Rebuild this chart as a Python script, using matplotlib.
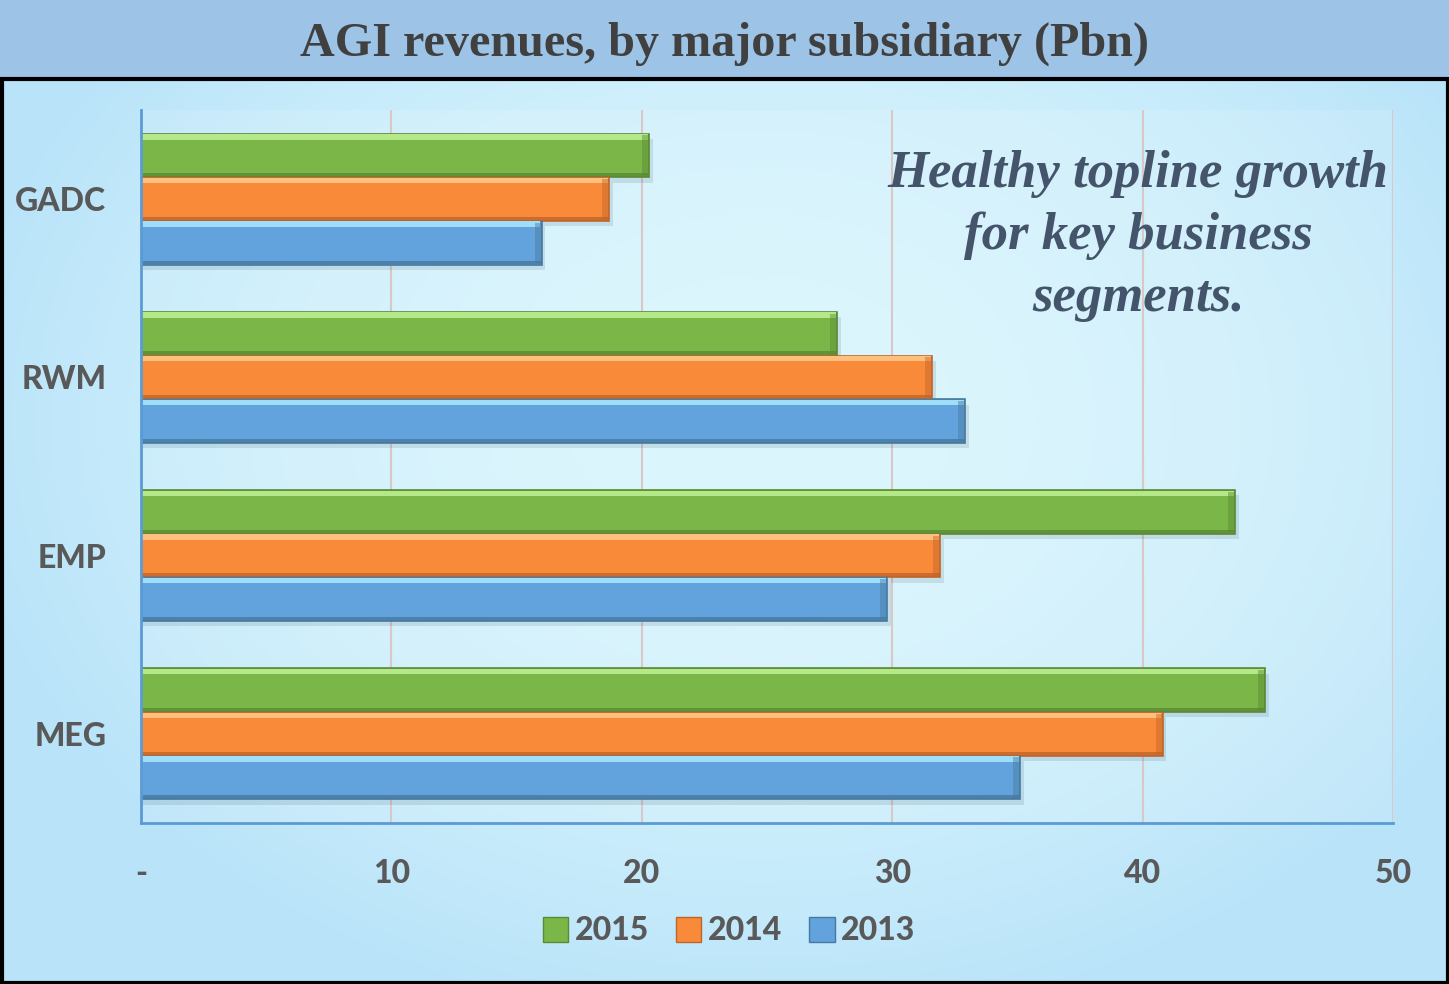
#!/usr/bin/env python3
"""AGI revenues by major subsidiary, horizontal grouped bars."""

import numpy as np
import matplotlib

matplotlib.use("Agg")
import matplotlib.pyplot as plt
from matplotlib.patches import Patch, Rectangle

# ── data ─────────────────────────────────────────────────────────────
subsidiaries = ["GADC", "RWM", "EMP", "MEG"]
years = ["2015", "2014", "2013"]
rev_2015 = [20.3, 27.8, 43.7, 44.9]
rev_2014 = [18.7, 31.6, 31.9, 40.8]
rev_2013 = [16.0, 32.9, 29.8, 35.1]
x_ticks = [0, 10, 20, 30, 40, 50]
x_tick_labels = ["-", "10", "20", "30", "40", "50"]

title = "AGI revenues, by major subsidiary (Pbn)"
note = "Healthy topline growth\nfor key business\nsegments."

# main, highlight, dark edge
palette = {
    "2015": ("#7AB648", "#B4E889", "#5A8A34"),
    "2014": ("#F98A3A", "#FDC07F", "#C0652A"),
    "2013": ("#62A3DE", "#A0DDF8", "#47799F"),
}
series = {"2015": rev_2015, "2014": rev_2014, "2013": rev_2013}

W, H = 1449, 984
LABEL_FONT = {"family": "Lato", "weight": 900}
fig = plt.figure(figsize=(W / 100, H / 100), dpi=100)

# ── background: gradient panel, title band, black frame ──────────────
bg = fig.add_axes([0, 0, 1, 1])
bg.set_xlim(0, W)
bg.set_ylim(H, 0)
bg.axis("off")

yy, xx = np.mgrid[0:H, 0:W]
r = np.sqrt(((xx - 760) / 820.0) ** 2 + ((yy - 420) / 620.0) ** 2)
r = np.clip(r, 0, 1) ** 2
c_mid = np.array([0xD8, 0xF5, 0xFD]) / 255.0
c_edge = np.array([0xB8, 0xE3, 0xF9]) / 255.0
img = c_mid[None, None, :] + (c_edge - c_mid)[None, None, :] * r[..., None]
bg.imshow(img, extent=(0, W, H, 0), aspect="auto", zorder=0)

bg.add_patch(Rectangle((0, 0), W, 79, facecolor="#9DC3E6", edgecolor="none", zorder=1))
bg.add_patch(Rectangle((1.5, 79), W - 3, H - 80.5, facecolor="none",
                       edgecolor="black", linewidth=3, zorder=2))
fig.text(0.5, 1 - 44 / H, title, ha="center", va="center",
         family="Liberation Serif", fontweight="bold", fontsize=34.7, color="#404040")

# ── chart ────────────────────────────────────────────────────────────
ax = fig.add_axes([141 / W, 1 - 823 / H, (1393 - 141) / W, (823 - 110) / H])
ax.patch.set_facecolor("white")
ax.patch.set_alpha(0.12)

y = np.arange(len(subsidiaries))
h = 0.245
offsets = {"2015": -h, "2014": 0.0, "2013": h}

for yr in years:
    main, hi, dark = palette[yr]
    vals = np.array(series[yr])
    yc = y + offsets[yr]
    # soft shadow
    ax.barh(yc + 0.03, vals + 0.15, height=h, color="#2A4A60", alpha=0.13,
            linewidth=0, zorder=2)
    ax.barh(yc, vals, height=h, color=main, edgecolor=dark, linewidth=1.2, zorder=3)
    # top highlight and bottom shade for the bevel look
    ax.barh(yc - h / 2 + 0.018, vals - 0.05, height=0.03, color=hi,
            linewidth=0, zorder=4)
    ax.barh(yc + h / 2 - 0.012, vals, height=0.022, color=dark, alpha=0.8,
            linewidth=0, zorder=4)
    # right end bevel
    ax.barh(yc, [0.28] * len(vals), left=vals - 0.28, height=h - 0.02,
            color=dark, alpha=0.45, linewidth=0, zorder=4)

ax.set_xlim(0, 50)
ax.set_ylim(len(subsidiaries) - 0.5, -0.5)
ax.set_xticks(x_ticks)
ax.set_xticklabels(x_tick_labels)
ax.set_yticks(y)
ax.set_yticklabels(subsidiaries)
ax.tick_params(length=0, labelsize=23, labelcolor="#595959")
ax.tick_params(axis="x", pad=26)
ax.tick_params(axis="y", pad=25)
for lab in ax.get_xticklabels() + ax.get_yticklabels():
    lab.set_family(LABEL_FONT["family"])
    lab.set_fontweight(LABEL_FONT["weight"])

ax.grid(axis="x", color="#D8C8C8", linewidth=1.5, zorder=1)
ax.set_axisbelow(True)
for side in ("top", "right"):
    ax.spines[side].set_visible(False)
for side in ("left", "bottom"):
    ax.spines[side].set_color("#5B9BD5")
    ax.spines[side].set_linewidth(2)
    ax.spines[side].set_zorder(5)

fig.text(1138 / W, 1 - 236 / H, note, ha="center", va="center", family="Liberation Serif",
         fontstyle="italic", fontweight="bold", fontsize=38, color="#44546A",
         linespacing=1.38)

handles = [Patch(facecolor=palette[yr][0], edgecolor=palette[yr][2], label=yr) for yr in years]
leg = fig.legend(handles=handles, loc="center", bbox_to_anchor=(729 / W, 1 - 931 / H),
                 ncol=3, frameon=False, handlelength=0.8, handleheight=0.8,
                 handletextpad=0.2, columnspacing=0.85,
                 prop={"family": LABEL_FONT["family"], "weight": LABEL_FONT["weight"],
                       "size": 23})
for t in leg.get_texts():
    t.set_color("#595959")

fig.savefig("out.png", dpi=100)
